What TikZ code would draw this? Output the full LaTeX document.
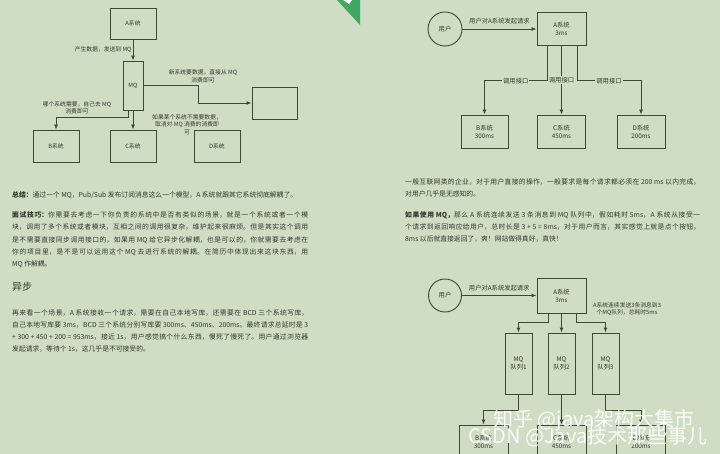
\documentclass[tikz,border=0pt]{standalone}
\usepackage{fontspec}
\setmainfont{Noto Sans CJK SC}
\usetikzlibrary{arrows.meta}
\XeTeXlinebreaklocale "zh"
\XeTeXlinebreakskip=0pt plus 1.5pt minus 0.2pt
\definecolor{bg}{RGB}{206,221,196}
\definecolor{ln}{RGB}{58,72,52}
\definecolor{txt}{RGB}{50,56,44}
\definecolor{flag}{RGB}{62,168,98}
\begin{document}
\begin{tikzpicture}[x=1pt, y=-1pt, >={Latex[length=5pt,width=4pt]},
  box/.style={draw=ln, line width=0.9pt, text=txt, align=center, inner sep=0pt},
  small/.style={font=\fontsize{5.8}{7.5}\selectfont},
  mid/.style={font=\fontsize{6.3}{8}\selectfont},
  lbl/.style={text=txt, align=center, inner sep=1pt},
  call/.style={lbl, mid, fill=bg},
  wire/.style={draw=ln, line width=0.9pt},
  para/.style={text=txt, anchor=north west, inner sep=0pt, text width=296pt, align=justify},
  wmark/.style={text=white, opacity=0.9, font=\fontsize{20}{20}\selectfont}]
\useasboundingbox (0,0) rectangle (720,454);
\fill[bg] (0,0) rectangle (720,454);
\fill[flag] (337,0) -- (360,0) -- (360,25) -- cycle;
\fill[white] (343,0) -- (352,0) -- (349,4) -- cycle;

% left page: pub/sub
\node[box, small, minimum width=46pt, minimum height=31pt] (a) at (133,23.5) {A系统};
\node[box, small, minimum width=20pt, minimum height=49pt] (mq) at (133,85.5) {MQ};
\node[box, minimum width=45pt, minimum height=32pt] (new) at (274.5,103) {};
\node[box, small, minimum width=46pt, minimum height=32pt] (b) at (56,146) {B系统};
\node[box, small, minimum width=46pt, minimum height=32pt] (c) at (133,146) {C系统};
\node[box, small, minimum width=46pt, minimum height=32pt] (d) at (217,146) {D系统};
\coordinate (k1) at (198,103);
\draw[wire, ->] (a) -- node[lbl, small, left]{产生数据，发送到 MQ} (mq);
\draw[wire, ->] (mq.east) -| (k1) -- (new);
\draw[wire, ->] ([xshift=-5pt]mq.south) -- ++(0,7) -| (b);
\draw[wire, ->] (mq) -- (c);
\node[lbl, small] (newtxt) at (203,76.5) {新系统要数据，直接从 MQ\\消费即可};
\node[lbl, small] (btxt) at (77,108) {哪个系统需要，自己去 MQ\\消费即可};
\node[lbl, small] (dtxt) at (187,124.5) {如果某个系统不需要数据，\\取消对 MQ 消费的消费即\\可};

% left page text
\node[para, font=\fontsize{6.8}{12.2}\selectfont] (sum) at (12,191.6)
  {\textbf{总结：}通过一个 MQ，Pub/Sub 发布订阅消息这么一个模型，A 系统就跟其它系统彻底解耦了。};
\node[para, font=\fontsize{6.8}{12.2}\selectfont] (tip) at (12,211.6)
  {\textbf{面试技巧：}你需要去考虑一下你负责的系统中是否有类似的场景，就是一个系统或者一个模\linebreak
   块，调用了多个系统或者模块，互相之间的调用很复杂，维护起来很麻烦。但是其实这个调用\linebreak
   是不需要直接同步调用接口的，如果用 MQ 给它异步化解耦，也是可以的，你就需要去考虑在\linebreak
   你的项目里，是不是可以运用这个 MQ 去进行系统的解耦。在简历中体现出来这块东西，用\linebreak
   MQ 作解耦。};
\node[text=txt, anchor=north west, inner sep=0pt, font=\fontsize{10}{12}\selectfont] (head) at (12,282) {异步};
\node[para, font=\fontsize{6.8}{12}\selectfont] (scene) at (12,309.6)
  {再来看一个场景，A 系统接收一个请求，需要在自己本地写库，还需要在 BCD 三个系统写库，\linebreak
   自己本地写库要 3ms，BCD 三个系统分别写库要 300ms、450ms、200ms。最终请求总延时是 3\linebreak
   + 300 + 450 + 200 = 953ms，接近 1s，用户感觉搞个什么东西，慢死了慢死了。用户通过浏览器\linebreak
   发起请求，等待个 1s，这几乎是不可接受的。};

% right page: synchronous calls
\node[circle, draw=ln, line width=0.9pt, text=txt, mid, minimum size=34pt, inner sep=0pt] (u1) at (445,29) {用户};
\node[box, mid, minimum width=49pt, minimum height=33pt] (a1) at (561.5,29) {A系统\\3ms};
\node[box, mid, minimum width=47pt, minimum height=33pt] (b1) at (484.5,131.5) {B系统\\300ms};
\node[box, mid, minimum width=48pt, minimum height=33pt] (c1) at (561.5,131.5) {C系统\\450ms};
\node[box, mid, minimum width=48pt, minimum height=33pt] (d1) at (641,131.5) {D系统\\200ms};
\draw[wire, ->] (u1) -- node[lbl, mid, above=3.5pt]{用户对A系统发起请求} (a1);
\draw[wire, ->] ([xshift=-14.5pt]a1.south) -- ++(0,35) -| node[call, pos=0.25]{调用接口} (b1);
\draw[wire, ->] (a1) -- node[call]{调用接口} (c1);
\draw[wire, ->] ([xshift=15.5pt]a1.south) -- ++(0,35) -| node[call, pos=0.25]{调用接口} (d1);

% right page text
\node[para, text width=295pt, font=\fontsize{6.8}{12}\selectfont] (rule) at (405,178.6)
  {一般互联网类的企业，对于用户直接的操作，一般要求是每个请求都必须在 200 ms 以内完成，\linebreak
   对用户几乎是无感知的。};
\node[para, text width=295pt, font=\fontsize{6.8}{12}\selectfont] (usemq) at (405,211)
  {\textbf{如果使用 MQ，}那么 A 系统连续发送 3 条消息到 MQ 队列中，假如耗时 5ms，A 系统从接受一\linebreak
   个请求到返回响应给用户，总时长是 3 + 5 = 8ms，对于用户而言，其实感觉上就是点个按钮，\linebreak
   8ms 以后就直接返回了，爽！网站做得真好，真快！};

% right page: async through MQ
\node[circle, draw=ln, line width=0.9pt, text=txt, mid, minimum size=33pt, inner sep=0pt] (u2) at (445,295.5) {用户};
\node[box, mid, minimum width=49pt, minimum height=35pt] (a2) at (561.5,295.5) {A系统\\3ms};
\node[box, mid, minimum width=27pt, minimum height=61pt] (q1) at (518.5,363.5) {MQ\\队列1};
\node[box, mid, minimum width=27pt, minimum height=61pt] (q2) at (561.5,363.5) {MQ\\队列2};
\node[box, mid, minimum width=27pt, minimum height=61pt] (q3) at (605.5,363.5) {MQ\\队列3};
\node[box, mid, minimum width=49pt, minimum height=33pt] (b2) at (483.5,441.5) {B系统\\300ms};
\node[box, mid, minimum width=49pt, minimum height=33pt] (c2) at (561.5,441.5) {C系统\\450ms};
\node[box, mid, minimum width=49pt, minimum height=33pt] (d2) at (641,441.5) {D系统\\200ms};
\draw[wire, ->] (u2) -- node[lbl, mid, above=3pt]{用户对A系统发起请求} (a2);
\node[lbl, small] (sendtxt) at (627,309) {A系统连续发送3条消息到3\\个MQ队列，总耗时5ms};
\draw[wire, ->] ([xshift=-13.5pt]a2.south) -- ++(0,9) -| (q1);
\draw[wire, ->] (a2) -- (q2);
\draw[wire, ->] ([xshift=14.5pt]a2.south) -- ++(0,9) -| (q3);
\draw[wire, ->] (q1.south) -- ++(0,16) -| (b2);
\draw[wire, ->] (q2) -- (c2);
\draw[wire, ->] (q3.south) -- ++(0,16) -| (d2);

% watermarks
\node[wmark] (wm1) at (594,420) {知乎 @java架构大集市};
\node[wmark] (wm2) at (588,437) {CSDN @Java技术那些事儿};
\end{tikzpicture}
\end{document}
